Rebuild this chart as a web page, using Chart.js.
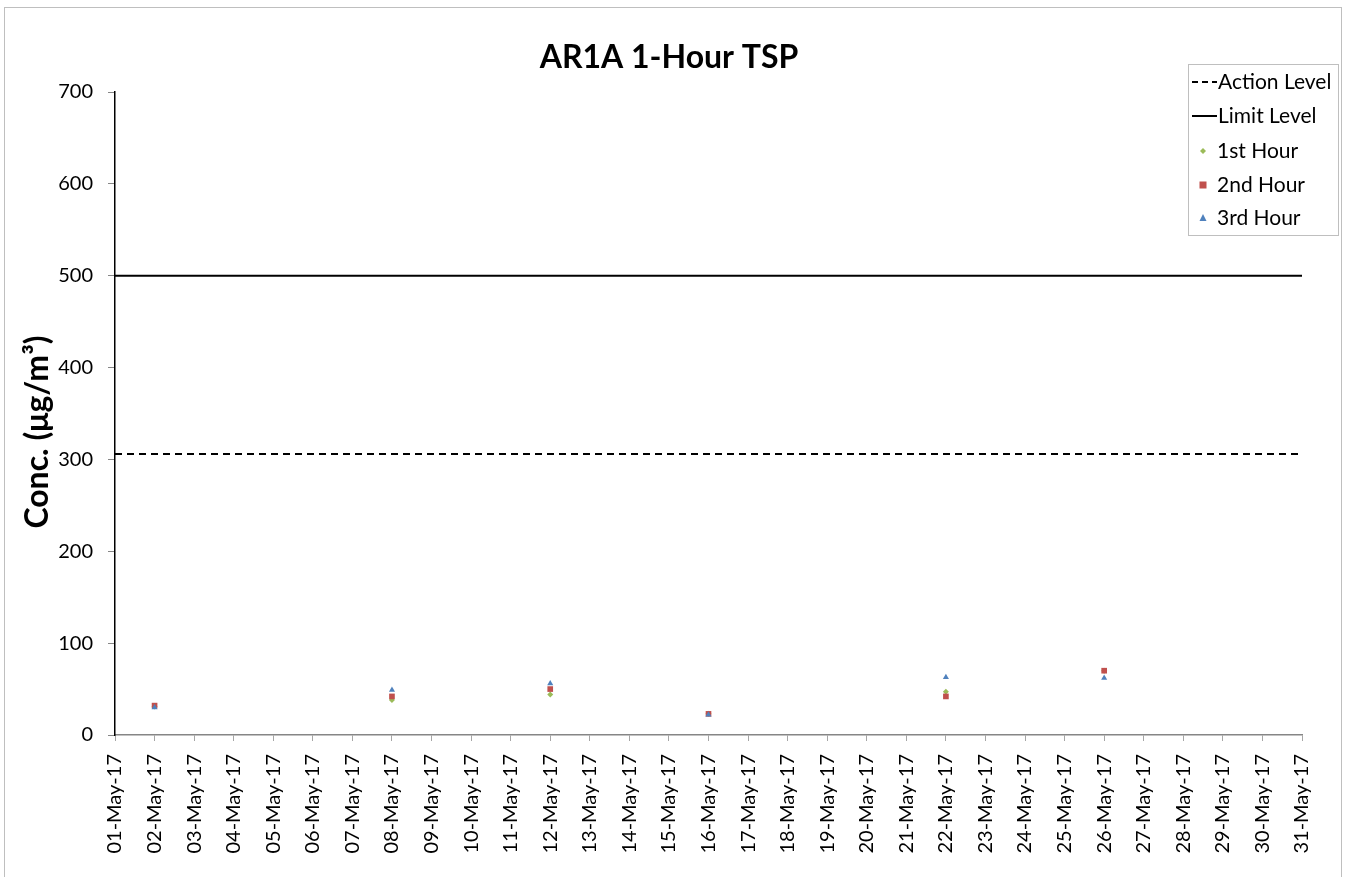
<!DOCTYPE html>
<html>
<head>
<meta charset="utf-8">
<script src="https://cdn.jsdelivr.net/npm/chart.js@4"></script>
<style>
  html, body { margin: 0; padding: 0; background: #fff; }
  #wrap { position: relative; width: 1348px; height: 877px; overflow: hidden; }
  #frame { position: absolute; left: 4px; top: 7px; width: 1338px; height: 900px; border: 1px solid #bfbfbf; box-sizing: border-box; pointer-events: none; }
  canvas { position: absolute; left: 0; top: 0; }
</style>
</head>
<body>
<div id="wrap">
  <canvas id="c" width="1348" height="877"></canvas>
  <div id="frame"></div>
</div>
<script>
// ---- data ----
const tickLabels = ["01-May-17","02-May-17","03-May-17","04-May-17","05-May-17","06-May-17","07-May-17","08-May-17","09-May-17","10-May-17","11-May-17","12-May-17","13-May-17","14-May-17","15-May-17","16-May-17","17-May-17","18-May-17","19-May-17","20-May-17","21-May-17","22-May-17","23-May-17","24-May-17","25-May-17","26-May-17","27-May-17","28-May-17","29-May-17","30-May-17","31-May-17"];
const sampleDays = [2, 8, 12, 16, 22, 26];
const hour1 = [31, 38, 44, 23, 47, 70];
const hour2 = [32, 42, 50, 23, 42, 70];
const hour3 = [30, 49, 56, 22, 63, 62];
const actionLevel = 306;
const limitLevel = 500;
const lineDays = [1, 31];

const FONT = "Lato, 'Open Sans', sans-serif";

function pts(days, vals) { return days.map((d, i) => ({ x: d, y: vals[i] })); }

const titlePlugin = {
  id: 'customTitle',
  afterDraw(chart) {
    const ctx = chart.ctx;
    ctx.save();
    ctx.font = "bold 32px " + FONT;
    ctx.fillStyle = "#000";
    ctx.textAlign = "center";
    ctx.textBaseline = "middle";
    ctx.fillText("AR1A 1-Hour TSP", 669, 58);
    // y axis title
    ctx.translate(38, 432);
    ctx.rotate(-Math.PI / 2);
    ctx.font = "bold 32px " + FONT;
    ctx.fillText("Conc. (μg/m³)", 0, 0);
    ctx.restore();
  }
};

const legendPlugin = {
  id: 'customLegend',
  afterDraw(chart) {
    const ctx = chart.ctx;
    const x0 = 1188, y0 = 64, w = 150, h = 171;
    ctx.save();
    ctx.fillStyle = "#fff";
    ctx.fillRect(x0, y0, w, h);
    ctx.strokeStyle = "#bfbfbf";
    ctx.lineWidth = 1;
    ctx.strokeRect(x0 + 0.5, y0 + 0.5, w, h);
    ctx.font = "21px " + FONT;
    ctx.textBaseline = "middle";
    ctx.fillStyle = "#000";
    const rows = [82, 116, 151, 185, 218];
    ctx.strokeStyle = "#000";
    ctx.lineWidth = 2;
    ctx.setLineDash([6, 4]);
    ctx.beginPath(); ctx.moveTo(1192, rows[0]); ctx.lineTo(1217, rows[0]); ctx.stroke();
    ctx.setLineDash([]);
    ctx.beginPath(); ctx.moveTo(1192, rows[1]); ctx.lineTo(1217, rows[1]); ctx.stroke();
    ctx.fillText("Action Level", 1218, rows[0]);
    ctx.fillText("Limit Level", 1218, rows[1]);
    const mx = 1203;
    ctx.fillStyle = "#9BBB59";
    ctx.beginPath(); ctx.moveTo(mx, rows[2]-3); ctx.lineTo(mx+3, rows[2]); ctx.lineTo(mx, rows[2]+3); ctx.lineTo(mx-3, rows[2]); ctx.closePath(); ctx.fill();
    ctx.fillStyle = "#C0504D";
    ctx.fillRect(mx-3.5, rows[3]-3.5, 7, 7);
    ctx.fillStyle = "#4F81BD";
    ctx.beginPath(); ctx.moveTo(mx, rows[4]-4); ctx.lineTo(mx+3.5, rows[4]+3); ctx.lineTo(mx-3.5, rows[4]+3); ctx.closePath(); ctx.fill();
    ctx.fillStyle = "#000";
    ctx.fillText("1st Hour", 1217, rows[2]);
    ctx.fillText("2nd Hour", 1217, rows[3]);
    ctx.fillText("3rd Hour", 1217, rows[4]);
    ctx.restore();
  }
};

new Chart(document.getElementById('c'), {
  type: 'scatter',
  data: {
    datasets: [
      { label: 'Action Level', type: 'line', order: 5, data: pts(lineDays, [actionLevel, actionLevel]), borderColor: '#000', borderWidth: 2, borderDash: [7, 5], pointRadius: 0, fill: false },
      { label: 'Limit Level', type: 'line', order: 4, data: pts(lineDays, [limitLevel, limitLevel]), borderColor: '#000', borderWidth: 2, pointRadius: 0, fill: false },
      { label: '1st Hour', order: 3, data: pts(sampleDays, hour1), pointStyle: 'rectRot', pointRadius: 3, backgroundColor: '#9BBB59', borderColor: '#9BBB59', borderWidth: 0 },
      { label: '2nd Hour', order: 2, data: pts(sampleDays, hour2), pointStyle: 'rect', pointRadius: 4, backgroundColor: '#C0504D', borderColor: '#C0504D', borderWidth: 0 },
      { label: '3rd Hour', order: 1, data: pts(sampleDays, hour3), pointStyle: 'triangle', pointRadius: 3.5, backgroundColor: '#4F81BD', borderColor: '#4F81BD', borderWidth: 0 }
    ]
  },
  options: {
    responsive: false,
    animation: false,
    events: [],
    layout: { padding: { left: 0, right: 46, top: 92, bottom: 0 } },
    plugins: { legend: { display: false }, title: { display: false }, tooltip: { enabled: false } },
    scales: {
      x: {
        type: 'linear', min: 1, max: 31,
        afterFit(s) { s.height = 142; },
        ticks: {
          stepSize: 1, autoSkip: false, minRotation: 90, maxRotation: 90,
          color: '#000', padding: 13,
          font: { family: FONT, size: 20 },
          callback: (v) => tickLabels[v - 1]
        },
        grid: { drawOnChartArea: false, color: '#a6a6a6', tickLength: 6 },
        border: { color: '#868686', width: 1.5 }
      },
      y: {
        min: 0, max: 700,
        afterFit(s) { s.width = 115; },
        ticks: { stepSize: 100, color: '#000', padding: 15, font: { family: FONT, size: 20 } },
        grid: { drawOnChartArea: false, color: '#868686', tickLength: 7 },
        border: { color: '#000', width: 1.5 }
      }
    }
  },
  plugins: [titlePlugin, legendPlugin]
});
</script>
</body>
</html>
